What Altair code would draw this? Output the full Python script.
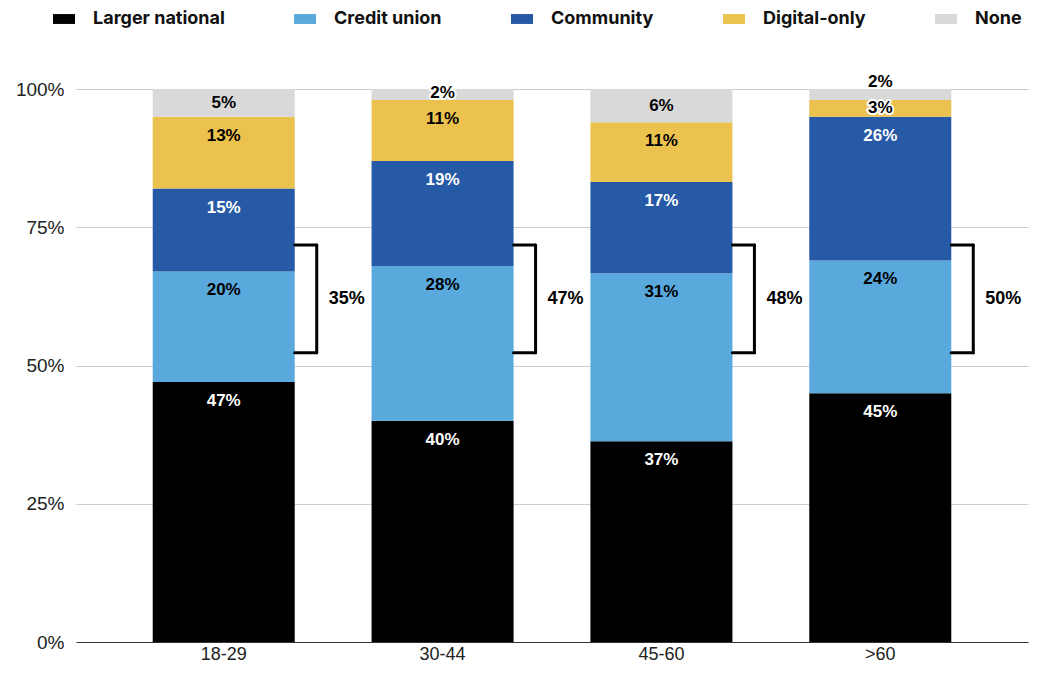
import altair as alt
import pandas as pd

ages = ["18-29", "30-44", "45-60", ">60"]
series = ["Larger national", "Credit union", "Community", "Digital-only", "None"]
colors = ["#000000", "#59A9DD", "#2659A6", "#ECC24E", "#D9D9D9"]
text_colors = ["white", "black", "white", "black", "black"]

larger_national = [47, 40, 36.3, 45]
credit_union = [20, 28, 30.4, 24]
community = [15, 19, 16.5, 26]
digital_only = [13, 11, 10.8, 3]
none = [5, 2, 6.0, 2]

label_national = ["47%", "40%", "37%", "45%"]
label_credit = ["20%", "28%", "31%", "24%"]
label_community = ["15%", "19%", "17%", "26%"]
label_digital = ["13%", "11%", "11%", "3%"]
label_none = ["5%", "2%", "6%", "2%"]

bracket_labels = ["35%", "47%", "48%", "50%"]
bracket_top = 71.8
bracket_bottom = 52.3

all_vals = [larger_national, credit_union, community, digital_only, none]
all_labels = [label_national, label_credit, label_community, label_digital, label_none]

PX_PER_UNIT = 553 / 100.0
rows = []
for i, age in enumerate(ages):
    start = 0.0
    prev_label = None
    for j, s in enumerate(series):
        v = all_vals[j][i]
        end = start + v
        ly = end - min(19 / PX_PER_UNIT, v / 2)
        if prev_label is not None and ly - prev_label < 4.8:
            ly = prev_label + 4.8
        prev_label = ly
        rows.append({"age": age, "series": s, "start": start, "end": end,
                     "label": all_labels[j][i], "ly": ly, "tc": text_colors[j],
                     "small": v < 4})
        start = end
df = pd.DataFrame(rows)

bdf = pd.DataFrame({"age": ages, "blabel": bracket_labels,
                    "top": [bracket_top] * 4, "bottom": [bracket_bottom] * 4,
                    "mid": [(bracket_top + bracket_bottom) / 2] * 4})

xenc = alt.X("age:N", sort=ages, title=None,
             scale=alt.Scale(paddingInner=0.35, paddingOuter=0.35),
             axis=alt.Axis(labelAngle=0, ticks=False, domainColor="#333333",
                           labelFont="Liberation Sans", labelFontSize=18,
                           labelColor="#222222", labelPadding=3, grid=False))
yscale = alt.Scale(domain=[0, 100])

bars = alt.Chart(df).mark_bar(size=142).encode(
    x=xenc,
    y=alt.Y("start:Q", scale=yscale, title=None,
            axis=alt.Axis(values=[0, 25, 50, 75, 100], labelExpr="datum.value + '%'",
                          ticks=False, domain=False, gridColor="#CCCCCC",
                          labelFont="Liberation Sans", labelFontSize=19,
                          labelColor="#222222", labelPadding=12)),
    y2="end:Q",
    color=alt.Color("series:N", sort=series,
                    scale=alt.Scale(domain=series, range=colors),
                    legend=alt.Legend(title=None, orient="none", direction="horizontal",
                                      legendX=-23, legendY=-81,
                                      symbolType="M-1,-0.45H1V0.45H-1Z", symbolSize=484,
                                      symbolStrokeWidth=0,
                                      labelFont="Inter", labelFontSize=18,
                                      labelFontWeight="bold", labelColor="#111111",
                                      labelOffset=18, columnPadding=69,
                                      labelLimit=300)),
)

halo = alt.Chart(df).transform_filter("datum.small").mark_text(
    font="Liberation Sans", fontSize=17, fontWeight="bold", baseline="middle",
    stroke="white", strokeWidth=4, strokeJoin="round", color="white"
).encode(x=alt.X("age:N", sort=ages), y=alt.Y("ly:Q", scale=yscale), text="label:N")

labels = alt.Chart(df).mark_text(
    font="Liberation Sans", fontSize=17, fontWeight="bold", baseline="middle"
).encode(x=alt.X("age:N", sort=ages), y=alt.Y("ly:Q", scale=yscale), text="label:N",
         color=alt.Color("tc:N", scale=None))

vline = alt.Chart(bdf).mark_rule(color="black", strokeWidth=3, strokeCap="round",
                                 xOffset=93).encode(
    x=alt.X("age:N", sort=ages), y=alt.Y("top:Q", scale=yscale), y2="bottom:Q")
htop = alt.Chart(bdf).mark_rule(color="black", strokeWidth=3, strokeCap="round",
                                xOffset=71, x2Offset=93).encode(
    x=alt.X("age:N", sort=ages), x2=alt.X2("age:N"), y=alt.Y("top:Q", scale=yscale))
hbot = alt.Chart(bdf).mark_rule(color="black", strokeWidth=3, strokeCap="round",
                                xOffset=71, x2Offset=93).encode(
    x=alt.X("age:N", sort=ages), x2=alt.X2("age:N"), y=alt.Y("bottom:Q", scale=yscale))
blabels = alt.Chart(bdf).mark_text(
    font="Liberation Sans", fontSize=18, fontWeight="bold", baseline="middle",
    align="left", dx=105, color="black"
).encode(x=alt.X("age:N", sort=ages), y=alt.Y("mid:Q", scale=yscale), text="blabel:N")

chart = alt.layer(bars, halo, labels, vline, htop, hbot, blabels).properties(
    width=952, height=553,
    autosize=alt.AutoSizeParams(type="none"),
    padding={"left": 68, "top": 81, "right": 1, "bottom": 26},
).configure_view(stroke=None)

chart.save("out.html", embed_options={"renderer": "svg", "actions": False})
